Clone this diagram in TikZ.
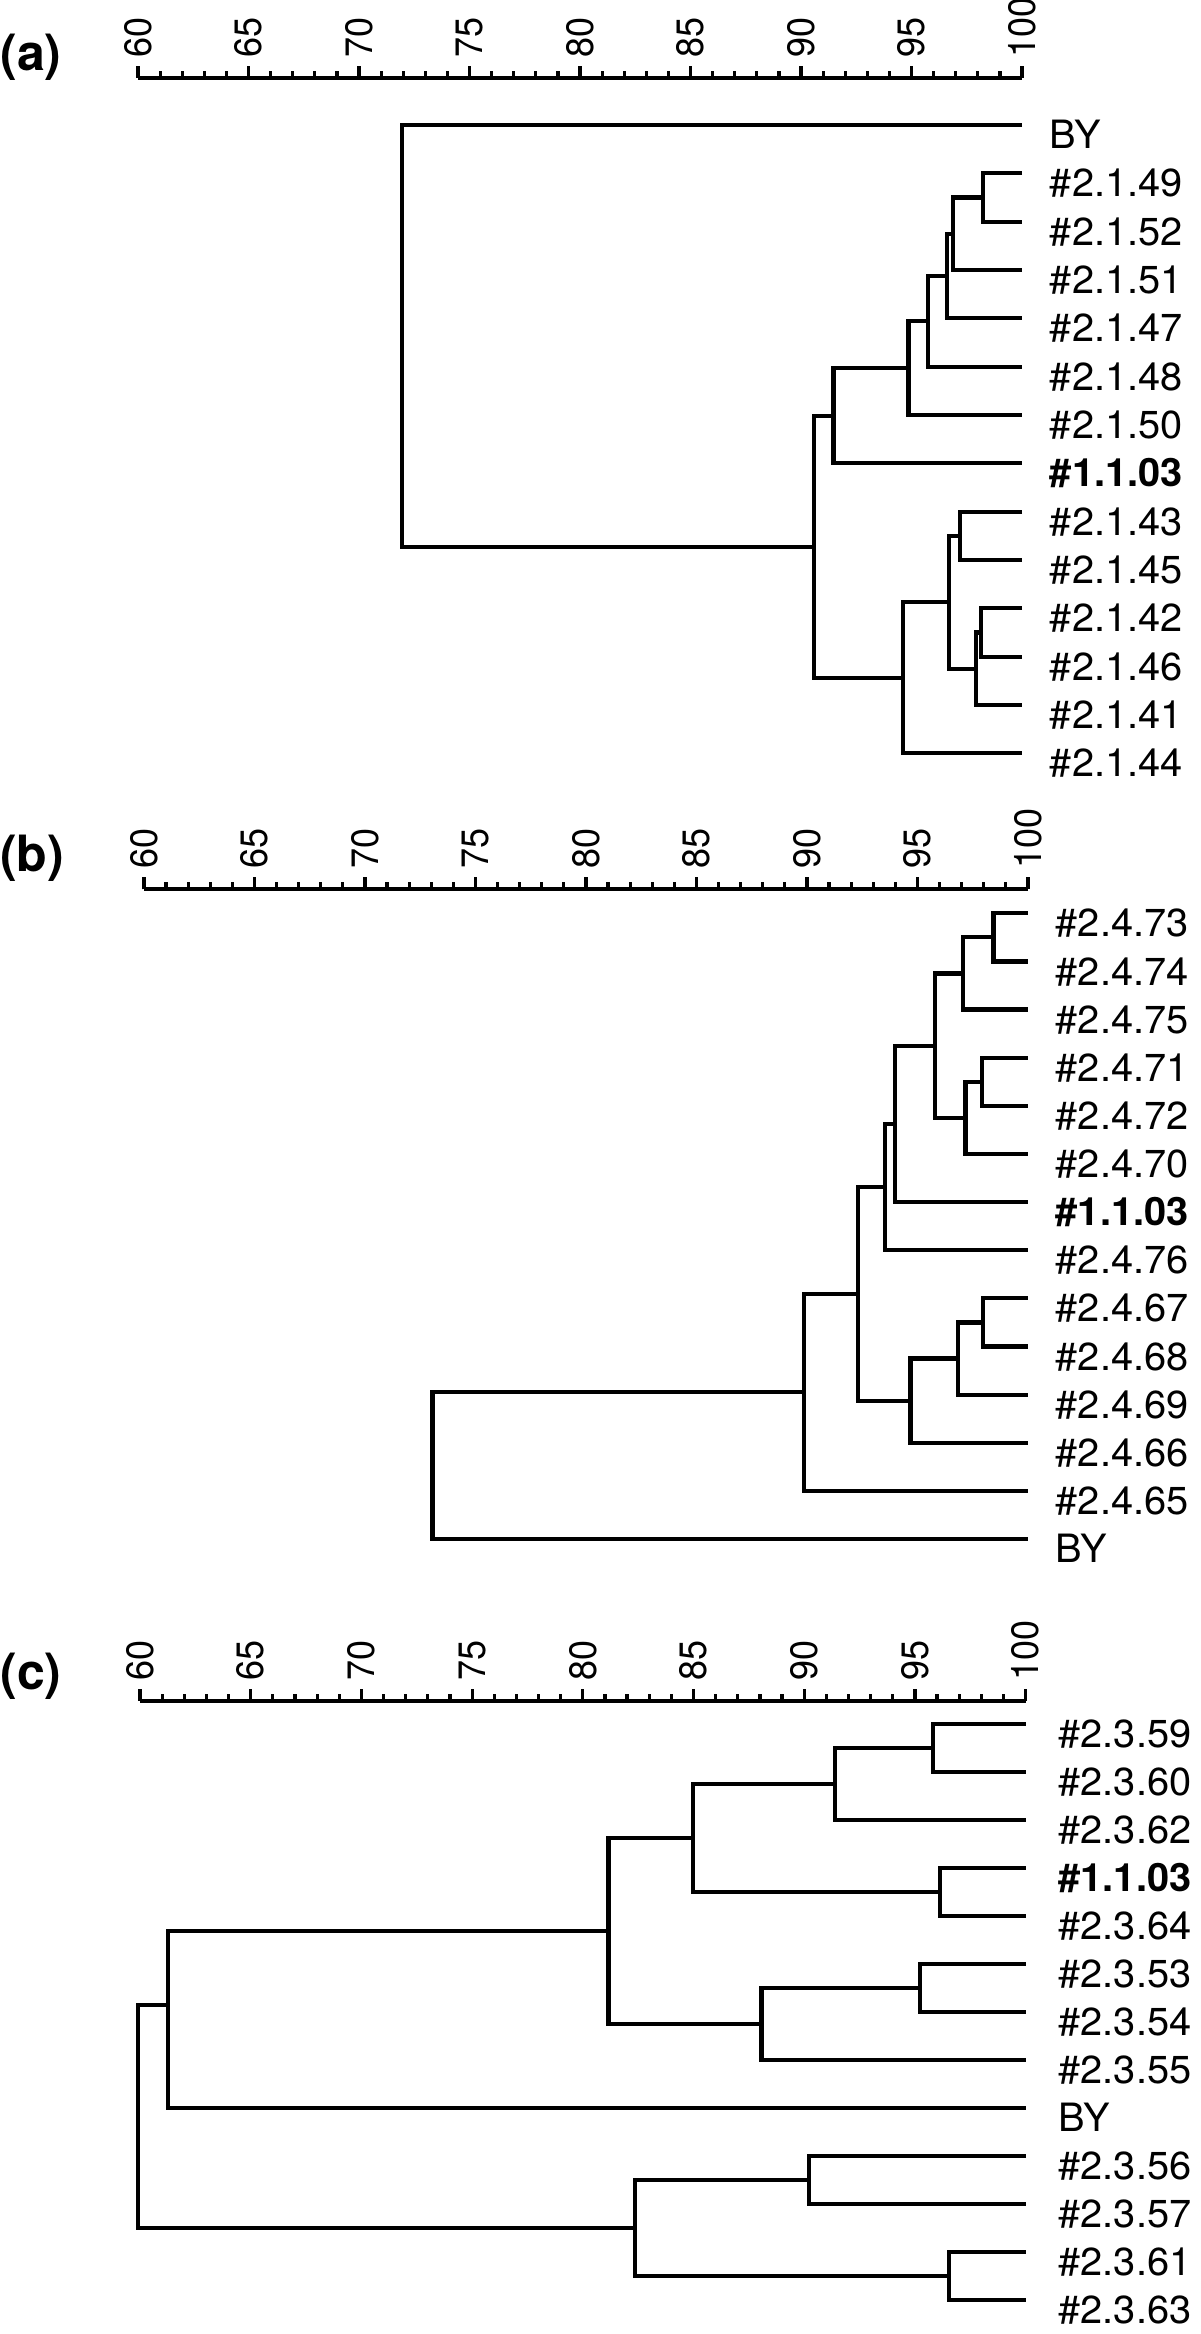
\documentclass[tikz,border=0pt]{standalone}
\usepackage{fontspec}
\setmainfont{TeX Gyre Heros}

\begin{document}
\begin{tikzpicture}[x=0.5pt,y=-0.5pt,
  branch/.style={line width=2.1pt,line join=miter},
  scalebar/.style={line width=2pt},
  tickmark/.style={line width=1.6pt},
  scalelab/.style={anchor=west,inner sep=0pt,yshift=10pt,xscale=1.06,rotate=90,font=\fontsize{18}{18}\selectfont},
  leaf/.style={anchor=base west,inner sep=0pt,yshift=-11.8pt,xscale=1.02,font=\fontsize{19.5}{19.5}\selectfont},
  panel/.style={inner sep=0pt,font=\bfseries\fontsize{25}{25}\selectfont}]

\useasboundingbox (0,0) rectangle (1200,2334);

% ---------------- (a) ----------------
\node[panel] (pa) at (31,57) {(a)};
\begin{scope}[shift={(138,125)},x=11.05pt,y=-24.165pt,shift={(-60,0)}]
% Scale
\draw[scalebar] (60,-0.973) -- (100,-0.973);
\foreach \v in {60,...,100}
  \draw[tickmark] (\v,-0.973) -- ++(0pt,3.5pt);
\foreach \v in {60,65,...,100}{
  \draw[tickmark] (\v,-0.973) -- ++(0pt,6pt);
  \node[scalelab] (sa\v) at (\v,-0.973) {\v};
}

% Isolates
\foreach \n/\t [count=\i from 0] in {BY/BY,49/\#2.1.49,52/\#2.1.52,51/\#2.1.51,47/\#2.1.47,48/\#2.1.48,50/\#2.1.50,103/\textbf{\#1.1.03},43/\#2.1.43,45/\#2.1.45,42/\#2.1.42,46/\#2.1.46,41/\#2.1.41,44/\#2.1.44}{
  \coordinate (a\n) at (100,\i);
  \node[leaf,xshift=13.5pt] (la\n) at (a\n) {\t};
}

% Clusters
\coordinate (na1) at (98.25,1.5);
\coordinate (na2) at (96.87,2.25);
\coordinate (na3) at (96.59,3.125);
\coordinate (na4) at (95.76,4.063);
\coordinate (na5) at (94.86,5.031);
\coordinate (na6) at (91.47,6.016);
\coordinate (na7) at (97.21,8.5);
\coordinate (na8) at (98.15,10.5);
\coordinate (na9) at (97.91,11.25);
\coordinate (na10) at (96.70,9.875);
\coordinate (na11) at (94.62,11.438);
\coordinate (na12) at (90.57,8.727);
\coordinate (na13) at (71.94,4.363);

\draw[branch] (a49) -| (na1) |- (a52);
\draw[branch] (na1) -| (na2) |- (a51);
\draw[branch] (na2) -| (na3) |- (a47);
\draw[branch] (na3) -| (na4) |- (a48);
\draw[branch] (na4) -| (na5) |- (a50);
\draw[branch] (na5) -| (na6) |- (a103);
\draw[branch] (a43) -| (na7) |- (a45);
\draw[branch] (a42) -| (na8) |- (a46);
\draw[branch] (na8) -| (na9) |- (a41);
\draw[branch] (na7) -| (na10) |- (na9);
\draw[branch] (na10) -| (na11) |- (a44);
\draw[branch] (na6) -| (na12) |- (na11);
\draw[branch] (aBY) -| (na13) |- (na12);
\end{scope}

% ---------------- (b) ----------------
\node[panel] (pb) at (32,858) {(b)};
\begin{scope}[shift={(143.9,913.3)},x=11.05pt,y=-24.065pt,shift={(-60,0)}]
% Scale
\draw[scalebar] (60,-0.499) -- (100,-0.499);
\foreach \v in {60,...,100}
  \draw[tickmark] (\v,-0.499) -- ++(0pt,3.5pt);
\foreach \v in {60,65,...,100}{
  \draw[tickmark] (\v,-0.499) -- ++(0pt,6pt);
  \node[scalelab] (sb\v) at (\v,-0.499) {\v};
}

% Isolates
\foreach \n/\t [count=\i from 0] in {73/\#2.4.73,74/\#2.4.74,75/\#2.4.75,71/\#2.4.71,72/\#2.4.72,70/\#2.4.70,103/\textbf{\#1.1.03},76/\#2.4.76,67/\#2.4.67,68/\#2.4.68,69/\#2.4.69,66/\#2.4.66,65/\#2.4.65,BY/BY}{
  \coordinate (b\n) at (100,\i);
  \node[leaf,xshift=13.5pt] (lb\n) at (b\n) {\t};
}

% Clusters
\coordinate (nb1) at (98.44,0.5);
\coordinate (nb2) at (97.05,1.25);
\coordinate (nb3) at (97.91,3.5);
\coordinate (nb4) at (97.18,4.25);
\coordinate (nb5) at (95.80,2.75);
\coordinate (nb6) at (93.99,4.375);
\coordinate (nb7) at (93.53,5.688);
\coordinate (nb8) at (97.98,8.5);
\coordinate (nb9) at (96.84,9.25);
\coordinate (nb10) at (94.69,10.125);
\coordinate (nb11) at (92.31,7.906);
\coordinate (nb12) at (89.88,9.953);
\coordinate (nb13) at (73.06,11.477);

\draw[branch] (b73) -| (nb1) |- (b74);
\draw[branch] (nb1) -| (nb2) |- (b75);
\draw[branch] (b71) -| (nb3) |- (b72);
\draw[branch] (nb3) -| (nb4) |- (b70);
\draw[branch] (nb2) -| (nb5) |- (nb4);
\draw[branch] (nb5) -| (nb6) |- (b103);
\draw[branch] (nb6) -| (nb7) |- (b76);
\draw[branch] (b67) -| (nb8) |- (b68);
\draw[branch] (nb8) -| (nb9) |- (b69);
\draw[branch] (nb9) -| (nb10) |- (b66);
\draw[branch] (nb7) -| (nb11) |- (nb10);
\draw[branch] (nb11) -| (nb12) |- (b65);
\draw[branch] (nb12) -| (nb13) |- (bBY);
\end{scope}

% ---------------- (c) ----------------
\node[panel] (pc) at (31,1676) {(c)};
\begin{scope}[shift={(140,1724)},x=11.07pt,y=-24pt,shift={(-60,0)}]
% Scale
\draw[scalebar] (60,-0.485) -- (100,-0.485);
\foreach \v in {60,...,100}
  \draw[tickmark] (\v,-0.485) -- ++(0pt,3.5pt);
\foreach \v in {60,65,...,100}{
  \draw[tickmark] (\v,-0.485) -- ++(0pt,6pt);
  \node[scalelab] (sc\v) at (\v,-0.485) {\v};
}

% Isolates
\foreach \n/\t [count=\i from 0] in {59/\#2.3.59,60/\#2.3.60,62/\#2.3.62,103/\textbf{\#1.1.03},64/\#2.3.64,53/\#2.3.53,54/\#2.3.54,55/\#2.3.55,BY/BY,56/\#2.3.56,57/\#2.3.57,61/\#2.3.61,63/\#2.3.63}{
  \coordinate (c\n) at (100,\i);
  \node[leaf,xshift=16pt] (lc\n) at (c\n) {\t};
}

% Clusters
\coordinate (nc1) at (95.83,0.5);
\coordinate (nc2) at (91.39,1.25);
\coordinate (nc3) at (96.13,3.5);
\coordinate (nc4) at (84.99,2.375);
\coordinate (nc5) at (95.23,5.5);
\coordinate (nc6) at (88.07,6.25);
\coordinate (nc7) at (81.16,4.313);
\coordinate (nc8) at (61.26,5.854);
\coordinate (nc9) at (90.21,9.5);
\coordinate (nc10) at (96.54,11.5);
\coordinate (nc11) at (82.37,10.5);
\coordinate (nc12) at (59.92,8.2);

\draw[branch] (c59) -| (nc1) |- (c60);
\draw[branch] (nc1) -| (nc2) |- (c62);
\draw[branch] (c103) -| (nc3) |- (c64);
\draw[branch] (nc2) -| (nc4) |- (nc3);
\draw[branch] (c53) -| (nc5) |- (c54);
\draw[branch] (nc5) -| (nc6) |- (c55);
\draw[branch] (nc4) -| (nc7) |- (nc6);
\draw[branch] (nc7) -| (nc8) |- (cBY);
\draw[branch] (c56) -| (nc9) |- (c57);
\draw[branch] (c61) -| (nc10) |- (c63);
\draw[branch] (nc9) -| (nc11) |- (nc10);
\draw[branch] (nc8) -| (nc12) |- (nc11);
\end{scope}

\end{tikzpicture}
\end{document}
